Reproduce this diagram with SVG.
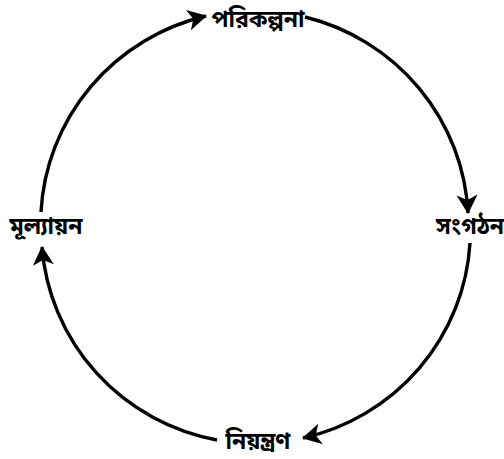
<svg xmlns="http://www.w3.org/2000/svg" width="504" height="459" viewBox="0 0 504 459">
<style>
.lbl{font-family:"Noto Sans Bengali","Noto Serif Bengali","Lohit Bengali","Noto Sans",sans-serif;font-size:23px;font-weight:bold;fill:#000}
.arc{fill:none;stroke:#000;stroke-width:3.4;marker-end:url(#ah)}
</style>
<defs>
<marker id="ah" markerUnits="userSpaceOnUse" markerWidth="24" markerHeight="24" viewBox="-1 -12 22 24" refX="18" refY="0" orient="auto">
<path d="M0,-10.5 L19,0 L0,10.5 L5,0 z" fill="#000"/>
</marker>
</defs>
<rect width="504" height="459" fill="#fff"/>
<g id="connectors">
<path class="arc" d="M 41 212 A 215 213 0 0 1 206 16"/>
<path class="arc" d="M 305 17 A 215 213 0 0 1 468 213"/>
<path class="arc" d="M 470 243 A 215 213 0 0 1 303 438"/>
<path class="arc" d="M 217 440 A 215 213 0 0 1 42 247"/>
</g>
<g id="planning"><text class="lbl" x="258" y="27" text-anchor="middle">পরিকল্পনা</text></g>
<g id="organizing"><text class="lbl" x="470" y="234" text-anchor="middle">সংগঠন</text></g>
<g id="controlling"><text class="lbl" x="258" y="449" text-anchor="middle">নিয়ন্ত্রণ</text></g>
<g id="evaluation"><text class="lbl" x="46" y="234" text-anchor="middle">মূল্যায়ন</text></g>
</svg>
